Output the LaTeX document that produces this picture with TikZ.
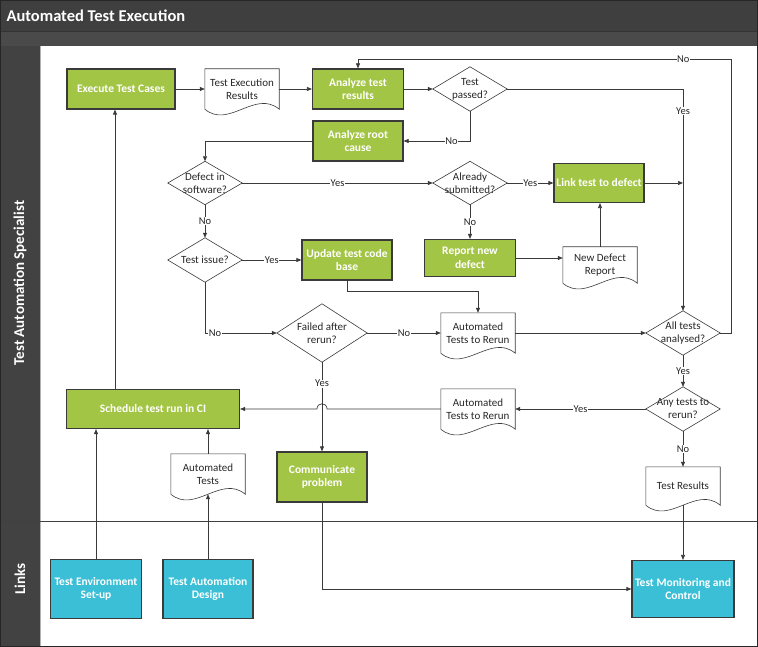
\documentclass[tikz,border=0pt]{standalone}
\usepackage{fontspec}
\setmainfont{Carlito}
\usetikzlibrary{arrows.meta}

\definecolor{titleGray}{HTML}{3F3F3F}
\definecolor{barGray}{HTML}{4A4A4A}
\definecolor{laneGray}{HTML}{424242}
\definecolor{stepGreen}{HTML}{A3C545}
\definecolor{linkCyan}{HTML}{3ABFD6}
\definecolor{edgeGray}{HTML}{3A3A3A}

\tikzset{
  task/.style={draw=edgeGray, line width=1.2pt, fill=stepGreen, text=white, align=center, inner sep=1pt,
    font=\bfseries\fontsize{11.5}{13.5}\selectfont},
  linkbox/.style={task, fill=linkCyan},
  docnode/.style={minimum width=74pt, minimum height=38pt, align=center, inner sep=1pt, text=black!85,
    font=\fontsize{11}{13}\selectfont},
  ask/.style={minimum width=74pt, minimum height=44pt, align=center, inner sep=0pt, text=black!85,
    font=\fontsize{11}{13}\selectfont},
  outline/.style={draw=edgeGray, line width=0.6pt},
  arr/.style={draw=edgeGray, line width=0.7pt, -{Triangle[length=5pt,width=4pt]}},
  lbl/.style={fill=white, inner sep=0.6pt, text=black!85, font=\fontsize{10.5}{12}\selectfont}
}

\begin{document}
\begin{tikzpicture}[x=1pt, y=-1pt]
% Set the page size
\useasboundingbox (0,0) rectangle (758,647);

% Draw the pool and the lanes
\fill[barGray] (0,0) rectangle (758,46);
\fill[titleGray] (0,0) rectangle (758,31);
\draw[black!80, line width=0.8pt] (0,31) -- (758,31);
\fill[laneGray] (0,46) rectangle (40,647);
\draw[black!30, line width=0.8pt] (40,46) -- (40,647);
\draw[black!75, line width=1pt] (0,521) -- (757,521);
\draw[black!45, line width=0.8pt] (757,46) -- (757,647);
\draw[black!15, line width=0.8pt] (40,646) -- (757,646);
\draw[black!85, line width=0.8pt] (0.4,0.4) rectangle (757.6,646.6);
\node[anchor=west, text=white, font=\bfseries\fontsize{16.5}{18}\selectfont] (pooltitle) at (3,16) {Automated Test Execution};
\node[rotate=90, text=white, font=\bfseries\fontsize{15}{17}\selectfont] (lanespec) at (20,283) {Test Automation Specialist};
\node[rotate=90, text=white, font=\bfseries\fontsize{15}{17}\selectfont] (lanelinks) at (20,579) {Links};

% Process steps
\node[task, minimum width=108pt, minimum height=40pt] (exec) at (121,89) {Execute Test Cases};
\node[task, minimum width=91pt, minimum height=40pt] (analyze) at (358,89) {Analyze test\\results};
\node[task, minimum width=90pt, minimum height=40pt] (rootcause) at (358,141) {Analyze root\\cause};
\node[task, minimum width=90pt, minimum height=39pt] (linkdefect) at (599,183) {Link test to defect};
\node[task, minimum width=91pt, minimum height=37pt] (report) at (470,258) {Report new\\defect};
\node[task, minimum width=90pt, minimum height=40pt] (updatecode) at (347,260) {Update test code\\base};
\node[task, minimum width=173pt, minimum height=39pt] (schedule) at (153,409) {Schedule test run in CI};
\node[task, minimum width=90pt, minimum height=50pt] (communicate) at (322,477) {Communicate\\problem};
\node[linkbox, minimum width=91pt, minimum height=59pt] (envsetup) at (96,589) {Test Environment\\Set-up};
\node[linkbox, minimum width=90pt, minimum height=59pt] (autodesign) at (208,589) {Test Automation\\Design};
\node[linkbox, minimum width=102pt, minimum height=57pt] (monitor) at (683,589) {Test Monitoring and\\Control};

% Documents
\node[docnode, minimum height=40pt] (execres) at (242,89) {Test Execution\\Results};
\node[docnode, minimum height=36pt] (newreport) at (600,265) {New Defect\\Report};
\node[docnode, minimum height=40pt] (rerunA) at (478,333) {Automated\\Tests to Rerun};
\node[docnode, minimum height=40pt] (rerunB) at (478,409) {Automated\\Tests to Rerun};
\node[docnode, minimum height=40pt] (autotests) at (208,474) {Automated\\Tests};
\node[docnode] (testresults) at (683,486) {Test Results};
\draw[outline] (execres.north west) -- (execres.north east) -- (execres.south east) .. controls +(-24,-20) and +(24,20) .. (execres.south west) -- cycle;
\draw[outline] (newreport.north west) -- (newreport.north east) -- (newreport.south east) .. controls +(-24,-20) and +(24,20) .. (newreport.south west) -- cycle;
\draw[outline] (rerunA.north west) -- (rerunA.north east) -- (rerunA.south east) .. controls +(-24,-20) and +(24,20) .. (rerunA.south west) -- cycle;
\draw[outline] (rerunB.north west) -- (rerunB.north east) -- (rerunB.south east) .. controls +(-24,-20) and +(24,20) .. (rerunB.south west) -- cycle;
\draw[outline] (autotests.north west) -- (autotests.north east) -- (autotests.south east) .. controls +(-24,-20) and +(24,20) .. (autotests.south west) -- cycle;
\draw[outline] (testresults.north west) -- (testresults.north east) -- (testresults.south east) .. controls +(-24,-20) and +(24,20) .. (testresults.south west) -- cycle;

% Decisions
\node[ask] (passed) at (470,89) {Test\\passed?};
\node[ask, minimum height=43pt] (defect) at (205,183) {Defect in\\software?};
\node[ask, minimum height=43pt] (submitted) at (470,183) {Already\\submitted?};
\node[ask] (testissue) at (205,260) {Test issue?};
\node[ask, minimum width=90pt, minimum height=58pt] (failed) at (322,333) {Failed after\\rerun?};
\node[ask] (allanalysed) at (683,333) {All tests\\analysed?};
\node[ask] (anyrerun) at (683,409) {Any tests to\\rerun?};
\draw[outline] (passed.north) -- (passed.east) -- (passed.south) -- (passed.west) -- cycle;
\draw[outline] (defect.north) -- (defect.east) -- (defect.south) -- (defect.west) -- cycle;
\draw[outline] (submitted.north) -- (submitted.east) -- (submitted.south) -- (submitted.west) -- cycle;
\draw[outline] (testissue.north) -- (testissue.east) -- (testissue.south) -- (testissue.west) -- cycle;
\draw[outline] (failed.north) -- (failed.east) -- (failed.south) -- (failed.west) -- cycle;
\draw[outline] (allanalysed.north) -- (allanalysed.east) -- (allanalysed.south) -- (allanalysed.west) -- cycle;
\draw[outline] (anyrerun.north) -- (anyrerun.east) -- (anyrerun.south) -- (anyrerun.west) -- cycle;

% Helper points for the long connectors
\coordinate (upline) at (115,0);
\coordinate (loopcorner) at (731,59);

% Connectors
\draw[arr] (exec.east) -- (execres.west);
\draw[arr] (execres.east) -- (analyze.west);
\draw[arr] (analyze.east) -- (passed.west);
\draw[arr] (passed.south) |- node[lbl, pos=0.64] {No} (rootcause.east);
\draw[arr] (passed.east) -| node[lbl, pos=0.55] {Yes} (allanalysed.north);
\draw[arr] (rootcause.west) -| (defect.north);
\draw[arr] (defect.east) -- node[lbl] {Yes} (submitted.west);
\draw[arr] (submitted.east) -- node[lbl] {Yes} (linkdefect.west);
\draw[arr] (linkdefect.east) -- (linkdefect.east -| allanalysed.north);
\draw[arr] (submitted.south) -- node[lbl] {No} (report.north);
\draw[arr] (report.east) -- (report.east -| newreport.west);
\draw[arr] (newreport.north) -- (newreport.north |- linkdefect.south);
\draw[arr] (defect.south) -- node[lbl] {No} (testissue.north);
\draw[arr] (testissue.east) -- node[lbl] {Yes} (updatecode.west);
\draw[arr] (updatecode.south) -- ++(0,11) -| (rerunA.north);
\draw[arr] (testissue.south) |- node[lbl, pos=0.57] {No} (failed.west);
\draw[arr] (failed.east) -- node[lbl] {No} (rerunA.west);
\draw[arr] (rerunA.east) -- (allanalysed.west);
\draw[arr] (allanalysed.east) -| (loopcorner) -| node[lbl, pos=0.064] {No} (analyze.north);
\draw[arr] (allanalysed.south) -- node[lbl] {Yes} (anyrerun.north);
\draw[arr] (anyrerun.west) -- node[lbl] {Yes} (rerunB.east);
\draw[arr] (anyrerun.south) -- node[lbl] {No} (testresults.north);
\draw[arr] (rerunB.west) -- ([xshift=5pt]failed.south |- rerunB.west) .. controls +(0,-7) and +(0,-7) .. ++(-10,0) -- (schedule.east);
\draw[arr] (failed.south) -- node[lbl, pos=0.24] {Yes} (communicate.north);
\draw[arr] (schedule.north -| upline) -- (exec.south -| upline);
\draw[arr] (autotests.north) -- (autotests.north |- schedule.south);
\draw[arr] (envsetup.north) -- (envsetup.north |- schedule.south);
\draw[arr] (autodesign.north) -- (autotests.south);
\draw[arr] (communicate.south) |- (monitor.west);
\draw[arr] (testresults.south) -- (monitor.north);
\end{tikzpicture}
\end{document}
